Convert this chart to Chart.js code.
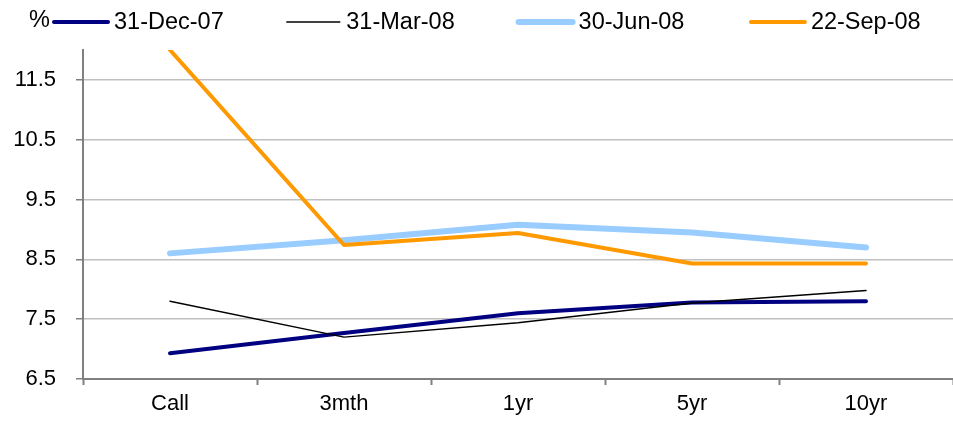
<!DOCTYPE html>
<html>
<head>
<meta charset="utf-8">
<script src="https://cdn.jsdelivr.net/npm/chart.js@4/dist/chart.umd.min.js"></script>
<style>
  html, body { margin: 0; padding: 0; background: #fff; }
  #wrap { width: 953px; height: 435px; }
</style>
</head>
<body>
<div id="wrap"><canvas id="curveChart"></canvas></div>
<script>
        // Yield curve data
        const categories = ['Call', '3mth', '1yr', '5yr', '10yr'];
        const seriesNames = ['31-Dec-07', '31-Mar-08', '30-Jun-08', '22-Sep-08'];
        const dec07 = [6.93, 7.27, 7.60, 7.78, 7.80];
        const mar08 = [7.80, 7.20, 7.44, 7.77, 7.98];
        const jun08 = [8.60, 8.82, 9.08, 8.95, 8.70];
        const sep08 = [12.0, 8.74, 8.94, 8.43, 8.43];
        const yTicks = [6.5, 7.5, 8.5, 9.5, 10.5, 11.5];
        const yMin = 6.5;
        const yMax = 12;

        const fontName = '"Liberation Sans", Arial, sans-serif';

        // Legend and unit label drawn across the top, Excel style
        const topLegend = {
            id: 'topLegend',
            afterDraw(chart) {
                const ctx = chart.ctx;
                ctx.save();
                ctx.font = '23.5px ' + fontName;
                ctx.fillStyle = '#000';
                ctx.textBaseline = 'middle';
                ctx.textAlign = 'left';
                ctx.fillText('%', 29, 21);
                chart.data.datasets.forEach((ds, i) => {
                    const x0 = 52 + i * 232.3;
                    ctx.beginPath();
                    ctx.strokeStyle = ds.borderColor;
                    ctx.lineWidth = ds.borderWidth;
                    ctx.lineCap = ds.borderWidth > 3 ? 'round' : 'butt';
                    ctx.moveTo(x0 + 2, 22);
                    ctx.lineTo(x0 + 56, 22);
                    ctx.stroke();
                    ctx.fillText(ds.label, x0 + 62, 23);
                });
                ctx.restore();
            }
        };

        const chartEl = document.getElementById('curveChart');

        const myChart = new Chart(chartEl, {
            type: 'line',
            data: {
                labels: categories,
                datasets: [
                    { label: seriesNames[0], data: dec07, borderColor: '#000080', borderWidth: 4, order: 4 },
                    { label: seriesNames[1], data: mar08, borderColor: '#000000', borderWidth: 1.5, order: 3 },
                    { label: seriesNames[2], data: jun08, borderColor: '#99CCFF', borderWidth: 6, order: 2 },
                    { label: seriesNames[3], data: sep08, borderColor: '#FF9900', borderWidth: 4, order: 1 }
                ].map(d => Object.assign(d, {
                    pointRadius: 0,
                    pointHoverRadius: 0,
                    tension: 0,
                    fill: false,
                    borderCapStyle: 'round',
                    borderJoinStyle: 'round'
                }))
            },
            options: {
                responsive: true,
                maintainAspectRatio: false,
                animation: false,
                layout: { padding: { top: 50, left: 0, right: 0, bottom: 0 } },
                plugins: {
                    legend: { display: false },
                    tooltip: { enabled: false }
                },
                scales: {
                    x: {
                        offset: true,
                        grid: {
                            offset: true,
                            drawOnChartArea: false,
                            tickLength: 6,
                            tickColor: '#808080',
                            tickWidth: 2
                        },
                        border: { color: '#808080', width: 2 },
                        ticks: {
                            color: '#000',
                            font: { family: fontName, size: 22 },
                            padding: 6,
                            maxRotation: 0
                        },
                        afterFit(scale) { scale.height = 56; }
                    },
                    y: {
                        min: yMin,
                        max: yMax,
                        afterBuildTicks(scale) {
                            scale.ticks = yTicks.map(v => ({ value: v }));
                        },
                        grid: {
                            color: '#c0c0c0',
                            lineWidth: 1.5,
                            tickLength: 7,
                            tickColor: '#808080',
                            tickWidth: 1.5
                        },
                        border: { color: '#808080', width: 2 },
                        ticks: {
                            color: '#000',
                            font: { family: fontName, size: 22 },
                            padding: 20,
                            callback: v => Number(v).toFixed(1)
                        },
                        afterFit(scale) { scale.width = 83; }
                    }
                }
            },
            plugins: [topLegend]
        });
</script>
</body>
</html>
